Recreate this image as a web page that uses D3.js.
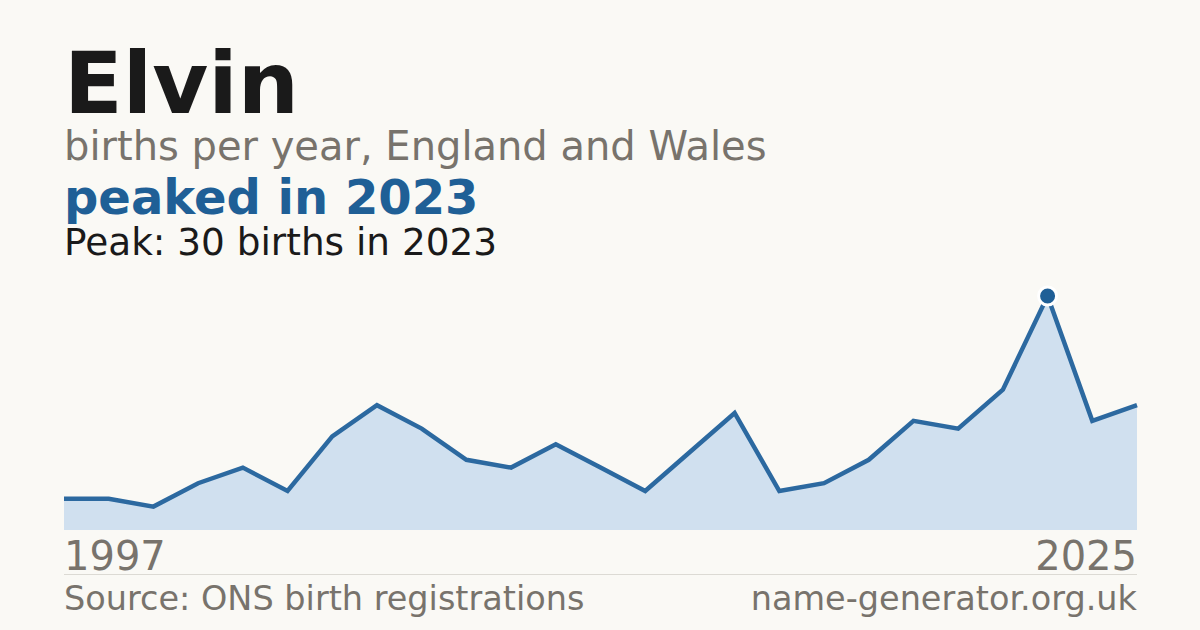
<!DOCTYPE html>
<html>
<head>
<meta charset="utf-8">
<script src="https://cdn.jsdelivr.net/npm/d3@7"></script>
<style>
  html, body { margin: 0; padding: 0; background: #faf9f5; }
  svg { display: block; font-family: "DejaVu Sans", sans-serif; }
</style>
</head>
<body>
<div id="chart"></div>
<script>
// data
var years = [1997, 1998, 1999, 2001, 2002, 2003, 2005, 2006, 2007, 2008, 2009, 2011, 2012,
             2013, 2014, 2015, 2016, 2017, 2018, 2019, 2021, 2022, 2023, 2024, 2025];
var births = [4, 4, 3, 6, 8, 5, 12, 16, 13, 9, 8, 11, 8,
              5, 10, 15, 5, 6, 9, 14, 13, 18, 30, 14, 16];
var nameLabel = "Elvin";
var subtitle = "births per year, England and Wales";
var headline = "peaked in 2023";
var peakNote = "Peak: 30 births in 2023";
var startLabel = "1997", endLabel = "2025";
var sourceLabel = "Source: ONS birth registrations";
var siteLabel = "name-generator.org.uk";

var W = 1200, H = 630;
var margin = { left: 64, right: 63, top: 296, bottom: 100 };
var blue = "#1f5f96", grey = "#78736c";

var svg = d3.select("#chart").append("svg")
    .attr("width", W).attr("height", H);

svg.append("rect").attr("width", W).attr("height", H).attr("fill", "#faf9f5");

// headings
svg.append("text").attr("x", 64).attr("y", 113)
    .attr("font-size", 86).attr("font-weight", "bold").attr("fill", "#1a1a1a")
    .text(nameLabel);
svg.append("text").attr("x", 64).attr("y", 160)
    .attr("font-size", 40).attr("fill", grey)
    .text(subtitle);
svg.append("text").attr("x", 64).attr("y", 214)
    .attr("font-size", 48).attr("font-weight", "bold").attr("fill", blue)
    .text(headline);
svg.append("text").attr("x", 64).attr("y", 255)
    .attr("font-size", 37.4).attr("fill", "#1a1a1a")
    .text(peakNote);

// scales
var x = d3.scalePoint()
    .domain(years)
    .range([margin.left, W - margin.right]);
var y = d3.scaleLinear()
    .domain([0, d3.max(births)])
    .range([H - margin.bottom, margin.top]);

var pts = years.map(function(yr, i) { return { year: yr, value: births[i] }; });

var area = d3.area()
    .x(function(d) { return x(d.year); })
    .y0(y(0))
    .y1(function(d) { return y(d.value); });
var line = d3.line()
    .x(function(d) { return x(d.year); })
    .y(function(d) { return y(d.value); });

svg.append("path").datum(pts)
    .attr("d", area).attr("fill", "#d0e0ef");
svg.append("path").datum(pts)
    .attr("d", line).attr("fill", "none")
    .attr("stroke", "#2c69a0").attr("stroke-width", 4.5)
    .attr("stroke-linejoin", "miter");

// peak marker
var peak = pts.reduce(function(a, b) { return b.value > a.value ? b : a; });
svg.append("circle")
    .attr("cx", x(peak.year)).attr("cy", y(peak.value)).attr("r", 9)
    .attr("fill", blue).attr("stroke", "#ffffff").attr("stroke-width", 3);

// axis labels
svg.append("text").attr("x", margin.left).attr("y", 570)
    .attr("font-size", 40).attr("fill", grey).text(startLabel);
svg.append("text").attr("x", W - margin.right).attr("y", 570)
    .attr("text-anchor", "end")
    .attr("font-size", 40).attr("fill", grey).text(endLabel);

svg.append("line")
    .attr("x1", margin.left).attr("x2", W - margin.right)
    .attr("y1", 574.5).attr("y2", 574.5)
    .attr("stroke", "#dcdad4").attr("stroke-width", 1);

// footer
svg.append("text").attr("x", margin.left).attr("y", 610)
    .attr("font-size", 33.5).attr("fill", grey).text(sourceLabel);
svg.append("text").attr("x", W - margin.right).attr("y", 610)
    .attr("text-anchor", "end")
    .attr("font-size", 33.5).attr("fill", grey).text(siteLabel);
</script>
</body>
</html>
